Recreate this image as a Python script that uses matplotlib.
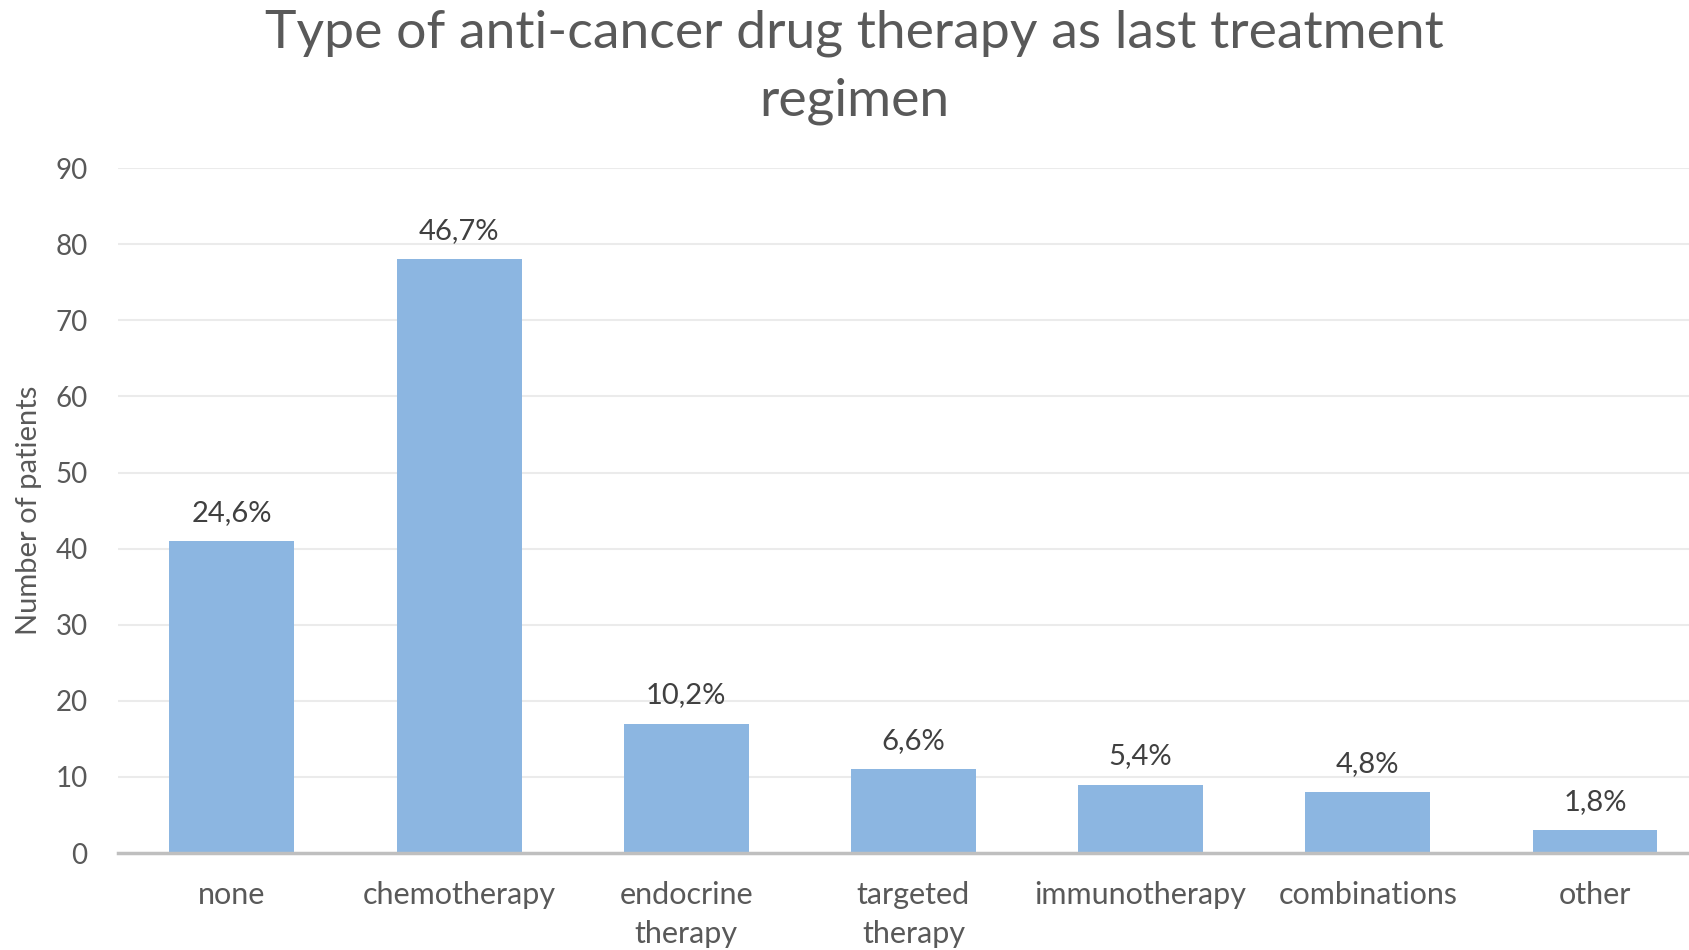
import matplotlib
matplotlib.use("Agg")
import matplotlib.pyplot as plt

categories = ["none", "chemotherapy", "endocrine\ntherapy", "targeted\ntherapy",
              "immunotherapy", "combinations", "other"]
patients = [41, 78, 17, 11, 9, 8, 3]
percent_labels = ["24,6%", "46,7%", "10,2%", "6,6%", "5,4%", "4,8%", "1,8%"]
y_ticks = [0, 10, 20, 30, 40, 50, 60, 70, 80, 90]

plt.rcParams['font.family'] = ['Lato', 'DejaVu Sans']

fig = plt.figure(figsize=(16.9, 9.5), dpi=100)
ax = fig.add_axes([0.07, 0.102, 0.941, 0.721])

x = range(len(categories))
ax.bar(x, patients, width=0.55, color="#8cb6e1", zorder=3)

for xi, v, lab in zip(x, patients, percent_labels):
    ax.annotate(lab, (xi, v), xytext=(0, 11), textcoords="offset points",
                ha="center", va="bottom", fontsize=21, color="#404040")

ax.set_xlim(-0.5, len(categories) - 0.5)
ax.set_ylim(0, 90)
ax.set_yticks(y_ticks)
ax.set_xticks(list(x))
ax.set_xticklabels(categories, fontsize=22, color="#595959", linespacing=1.5)
ax.tick_params(axis="x", length=0, pad=20)
ax.tick_params(axis="y", length=0, pad=22, labelsize=20, labelcolor="#595959")
ax.grid(axis="y", color="#ebebeb", linewidth=1.5, zorder=0)

for side in ["top", "right", "left"]:
    ax.spines[side].set_visible(False)
ax.spines["bottom"].set_color("#bfbfbf")
ax.spines["bottom"].set_linewidth(2.5)
ax.spines["bottom"].set_zorder(4)

ax.set_ylabel("Number of patients", fontsize=21, color="#595959")
ax.yaxis.set_label_coords(-0.048, 0.5)

fig.text(0.5055, 0.929, "Type of anti-cancer drug therapy as last treatment\nregimen",
         ha="center", va="center", fontsize=38.5, fontweight="normal",
         color="#595959", linespacing=1.55)

fig.savefig("out.png", dpi=100)
